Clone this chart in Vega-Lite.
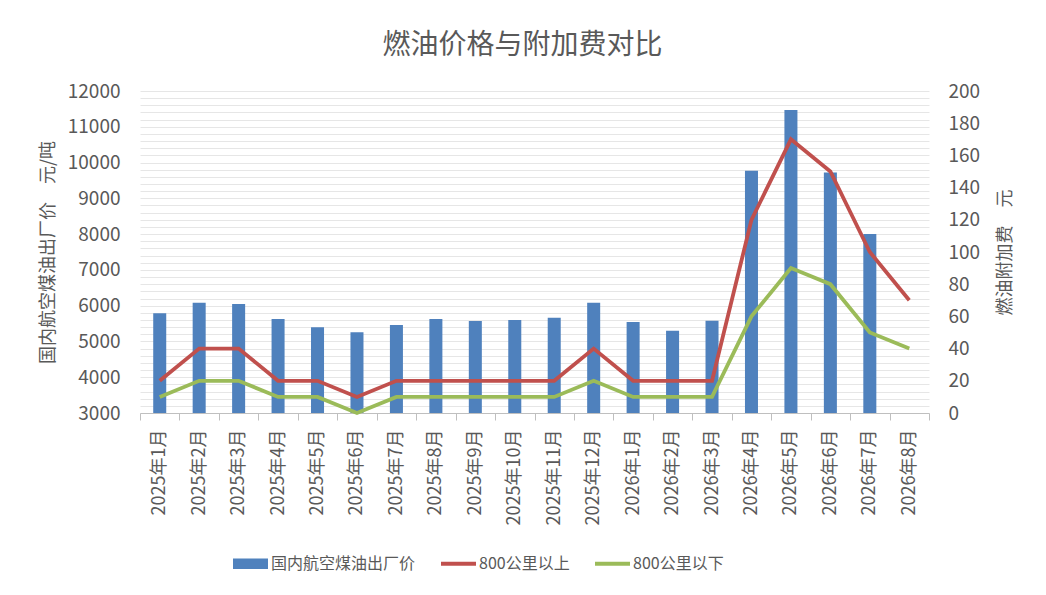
{
  "$schema": "https://vega.github.io/schema/vega-lite/v6.json",
  "width": 789,
  "height": 322,
  "autosize": {"type": "none"},
  "padding": {"left": 140, "top": 91, "right": 117, "bottom": 182},
  "background": "white",
  "title": {
    "text": "燃油价格与附加费对比",
    "anchor": "middle",
    "frame": "group",
    "dx": -12,
    "offset": 22,
    "fontSize": 28,
    "fontWeight": "normal",
    "font": "Noto Sans CJK SC",
    "color": "#595959"
  },
  "config": {
    "view": {"stroke": null},
    "font": "Noto Sans CJK SC",
    "axis": {
      "labelFont": "Noto Sans CJK SC",
      "titleFont": "Noto Sans CJK SC",
      "labelColor": "#595959",
      "titleColor": "#595959",
      "titleFontWeight": "normal"
    }
  },
  "datasets": {
    "price": [
      {"month": "2025年1月", "price": 5790},
      {"month": "2025年2月", "price": 6080},
      {"month": "2025年3月", "price": 6050},
      {"month": "2025年4月", "price": 5630},
      {"month": "2025年5月", "price": 5400},
      {"month": "2025年6月", "price": 5260},
      {"month": "2025年7月", "price": 5460},
      {"month": "2025年8月", "price": 5630},
      {"month": "2025年9月", "price": 5570},
      {"month": "2025年10月", "price": 5600},
      {"month": "2025年11月", "price": 5660},
      {"month": "2025年12月", "price": 6080},
      {"month": "2026年1月", "price": 5540},
      {"month": "2026年2月", "price": 5300},
      {"month": "2026年3月", "price": 5580},
      {"month": "2026年4月", "price": 9770},
      {"month": "2026年5月", "price": 11470},
      {"month": "2026年6月", "price": 9720},
      {"month": "2026年7月", "price": 8000}
    ],
    "fee": [
      {"month": "2025年1月", "series": "800公里以上", "fee": 20},
      {"month": "2025年2月", "series": "800公里以上", "fee": 40},
      {"month": "2025年3月", "series": "800公里以上", "fee": 40},
      {"month": "2025年4月", "series": "800公里以上", "fee": 20},
      {"month": "2025年5月", "series": "800公里以上", "fee": 20},
      {"month": "2025年6月", "series": "800公里以上", "fee": 10},
      {"month": "2025年7月", "series": "800公里以上", "fee": 20},
      {"month": "2025年8月", "series": "800公里以上", "fee": 20},
      {"month": "2025年9月", "series": "800公里以上", "fee": 20},
      {"month": "2025年10月", "series": "800公里以上", "fee": 20},
      {"month": "2025年11月", "series": "800公里以上", "fee": 20},
      {"month": "2025年12月", "series": "800公里以上", "fee": 40},
      {"month": "2026年1月", "series": "800公里以上", "fee": 20},
      {"month": "2026年2月", "series": "800公里以上", "fee": 20},
      {"month": "2026年3月", "series": "800公里以上", "fee": 20},
      {"month": "2026年4月", "series": "800公里以上", "fee": 120},
      {"month": "2026年5月", "series": "800公里以上", "fee": 170},
      {"month": "2026年6月", "series": "800公里以上", "fee": 150},
      {"month": "2026年7月", "series": "800公里以上", "fee": 100},
      {"month": "2026年8月", "series": "800公里以上", "fee": 70},
      {"month": "2025年1月", "series": "800公里以下", "fee": 10},
      {"month": "2025年2月", "series": "800公里以下", "fee": 20},
      {"month": "2025年3月", "series": "800公里以下", "fee": 20},
      {"month": "2025年4月", "series": "800公里以下", "fee": 10},
      {"month": "2025年5月", "series": "800公里以下", "fee": 10},
      {"month": "2025年6月", "series": "800公里以下", "fee": 0},
      {"month": "2025年7月", "series": "800公里以下", "fee": 10},
      {"month": "2025年8月", "series": "800公里以下", "fee": 10},
      {"month": "2025年9月", "series": "800公里以下", "fee": 10},
      {"month": "2025年10月", "series": "800公里以下", "fee": 10},
      {"month": "2025年11月", "series": "800公里以下", "fee": 10},
      {"month": "2025年12月", "series": "800公里以下", "fee": 20},
      {"month": "2026年1月", "series": "800公里以下", "fee": 10},
      {"month": "2026年2月", "series": "800公里以下", "fee": 10},
      {"month": "2026年3月", "series": "800公里以下", "fee": 10},
      {"month": "2026年4月", "series": "800公里以下", "fee": 60},
      {"month": "2026年5月", "series": "800公里以下", "fee": 90},
      {"month": "2026年6月", "series": "800公里以下", "fee": 80},
      {"month": "2026年7月", "series": "800公里以下", "fee": 50},
      {"month": "2026年8月", "series": "800公里以下", "fee": 40}
    ]
  },
  "encoding": {
    "x": {
      "field": "month",
      "type": "nominal",
      "title": null,
      "scale": {
        "domain": ["2025年1月", "2025年2月", "2025年3月", "2025年4月", "2025年5月", "2025年6月", "2025年7月", "2025年8月", "2025年9月", "2025年10月", "2025年11月", "2025年12月", "2026年1月", "2026年2月", "2026年3月", "2026年4月", "2026年5月", "2026年6月", "2026年7月", "2026年8月"],
        "paddingInner": 0,
        "paddingOuter": 0
      },
      "axis": {
        "labelAngle": -90,
        "labelFontSize": 18,
        "labelPadding": 9,
        "tickBand": "extent",
        "tickSize": 7,
        "tickColor": "#bfbfbf",
        "domainColor": "#bfbfbf",
        "grid": false
      }
    }
  },
  "layer": [
    {
      "data": {"name": "price"},
      "mark": {"type": "bar", "width": {"band": 0.33}},
      "encoding": {
        "y": {
          "field": "price",
          "type": "quantitative",
          "scale": {"domain": [3000, 12000], "nice": false, "zero": false},
          "axis": {
            "title": "国内航空煤油出厂价　元/吨",
            "titleFontSize": 18,
            "titlePadding": 10,
            "values": [3000, 3200, 3400, 3600, 3800, 4000, 4200, 4400, 4600, 4800, 5000, 5200, 5400, 5600, 5800, 6000, 6200, 6400, 6600, 6800, 7000, 7200, 7400, 7600, 7800, 8000, 8200, 8400, 8600, 8800, 9000, 9200, 9400, 9600, 9800, 10000, 10200, 10400, 10600, 10800, 11000, 11200, 11400, 11600, 11800, 12000],
            "format": "d",
            "labelExpr": "datum.value % 1000 === 0 ? datum.label : ''",
            "labelFontSize": 19,
            "labelPadding": 20,
            "ticks": false,
            "domain": false,
            "grid": true,
            "gridColor": "#e6e6e6",
            "gridWidth": 1
          }
        },
        "y2": {"datum": 3000},
        "color": {
          "datum": "国内航空煤油出厂价",
          "title": null,
          "scale": {
            "domain": ["国内航空煤油出厂价", "800公里以上", "800公里以下"],
            "range": ["#4F81BD", "#C0504D", "#9BBB59"]
          },
          "legend": {
            "orient": "none",
            "legendX": 93,
            "legendY": 455,
            "direction": "horizontal",
            "title": null,
            "labelFontSize": 16,
            "labelColor": "#595959",
            "labelFont": "Noto Sans CJK SC",
            "symbolSize": 1225,
            "columnPadding": 25,
            "labelOffset": 3,
            "encode": {
              "symbols": {
                "update": {
                  "shape": {"signal": "datum.value === '国内航空煤油出厂价' ? 'M-1,-0.3H1V0.3H-1Z' : 'M-1,-0.11H1V0.11H-1Z'"},
                  "fill": {"scale": "color", "field": "value"},
                  "strokeWidth": {"value": 0},
                  "opacity": {"value": 1}
                }
              }
            }
          }
        }
      }
    },
    {
      "data": {"name": "fee"},
      "mark": {"type": "line", "strokeWidth": 3.8},
      "encoding": {
        "y": {
          "field": "fee",
          "type": "quantitative",
          "scale": {"domain": [0, 200], "nice": false},
          "axis": {
            "orient": "right",
            "title": "燃油附加费　元",
            "titleAngle": -90,
            "titleFontSize": 18,
            "titlePadding": 35,
            "values": [0, 20, 40, 60, 80, 100, 120, 140, 160, 180, 200],
            "labelFontSize": 19,
            "labelPadding": 19,
            "ticks": false,
            "domain": false,
            "grid": false
          }
        },
        "color": {"field": "series", "type": "nominal", "title": null}
      }
    }
  ],
  "resolve": {"scale": {"y": "independent"}}
}
